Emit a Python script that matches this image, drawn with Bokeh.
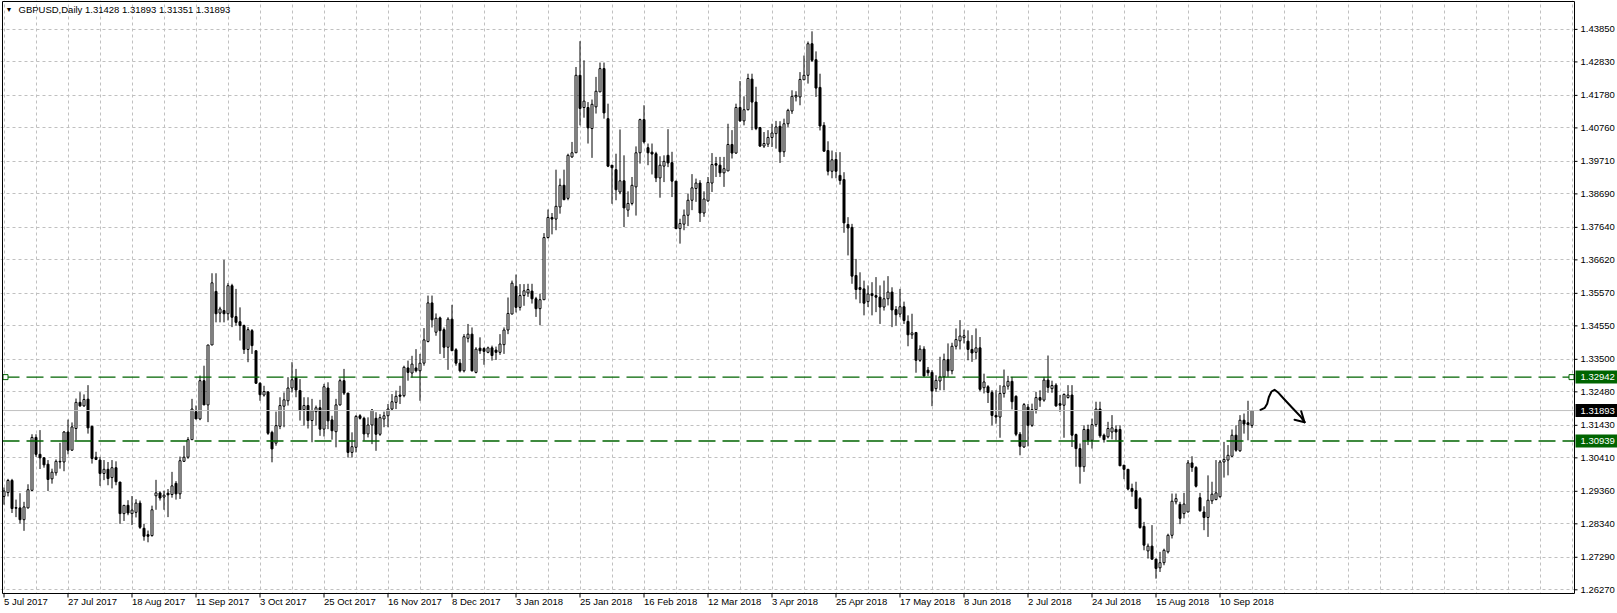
from bokeh.plotting import figure
from bokeh.models import Range1d, FixedTicker, Grid
from bokeh.embed import file_html
from bokeh.resources import INLINE
from bokeh.core.properties import value

symbol_title = "GBPUSD,Daily  1.31428 1.31893 1.31351 1.31893"

opens = [
    1.2920, 1.2932, 1.2970, 1.2885, 1.2884, 1.2847, 1.2884, 1.2939, 1.3105, 1.3052,
    1.3041, 1.3021, 1.2975, 1.2994, 1.3030, 1.3028, 1.3122, 1.3065, 1.3133, 1.3215,
    1.3204, 1.3225, 1.3140, 1.3043, 1.3034, 1.2992, 1.3005, 1.2979, 1.3010, 1.2965,
    1.2866, 1.2892, 1.2866, 1.2870, 1.2899, 1.2820, 1.2800, 1.2797, 1.2922, 1.2931,
    1.2918, 1.2930, 1.2926, 1.2961, 1.2928, 1.3030, 1.3043, 1.3098, 1.3186, 1.3163,
    1.3283, 1.3207, 1.3395, 1.3563, 1.3495, 1.3503, 1.3493, 1.3581, 1.3484, 1.3468,
    1.3456, 1.3381, 1.3440, 1.3377, 1.3275, 1.3238, 1.3248, 1.3121, 1.3087, 1.3140,
    1.3203, 1.3220, 1.3260, 1.3292, 1.3252, 1.3192, 1.3205, 1.3158, 1.3186, 1.3198,
    1.3131, 1.3260, 1.3160, 1.3123, 1.3207, 1.3283, 1.3244, 1.3058, 1.3074, 1.3173,
    1.3165, 1.3116, 1.3144, 1.3165, 1.3115, 1.3163, 1.3173, 1.3194, 1.3215, 1.3238,
    1.3236, 1.3323, 1.3307, 1.3323, 1.3314, 1.3338, 1.3406, 1.3527, 1.3435, 1.3480,
    1.3443, 1.3388, 1.3476, 1.3380, 1.3338, 1.3314, 1.3416, 1.3429, 1.3309, 1.3385,
    1.3384, 1.3372, 1.3386, 1.3379, 1.3372, 1.3396, 1.3442, 1.3492, 1.3579, 1.3513,
    1.3550, 1.3558, 1.3564, 1.3540, 1.3509, 1.3537, 1.3732, 1.3795, 1.3790, 1.3828,
    1.3896, 1.3855, 1.3985, 1.3998, 1.4241, 1.4140, 1.4140, 1.4074, 1.4142, 1.4189,
    1.4262, 1.4105, 1.3959, 1.3945, 1.3875, 1.3910, 1.3818, 1.3839, 1.3891, 1.3998,
    1.4102, 1.4014, 1.4000, 1.3995, 1.3919, 1.3956, 1.3990, 1.3967, 1.3909, 1.3760,
    1.3774, 1.3802, 1.3849, 1.3886, 1.3903, 1.3809, 1.3847, 1.3903, 1.3964, 1.3959,
    1.3935, 1.3941, 1.4024, 1.3997, 1.4140, 1.4098, 1.4133, 1.4229, 1.4157, 1.4077,
    1.4019, 1.4025, 1.4046, 1.4058, 1.4081, 1.4001, 1.4089, 1.4129, 1.4173, 1.4173,
    1.4227, 1.4241, 1.4340, 1.4290, 1.4203, 1.4084, 1.4005, 1.3940, 1.3977, 1.3927,
    1.3914, 1.3773, 1.3764, 1.3613, 1.3575, 1.3571, 1.3531, 1.3556, 1.3550, 1.3545,
    1.3514, 1.3540, 1.3561, 1.3506, 1.3492, 1.3515, 1.3469, 1.3427, 1.3434, 1.3347,
    1.3382, 1.3316, 1.3309, 1.3258, 1.3282, 1.3295, 1.3349, 1.3314, 1.3391, 1.3408,
    1.3418, 1.3407, 1.3381, 1.3372, 1.3386, 1.3261, 1.3264, 1.3246, 1.3174, 1.3169,
    1.3243, 1.3266, 1.3281, 1.3234, 1.3115, 1.3075, 1.3200, 1.3143, 1.3192, 1.3230,
    1.3222, 1.3285, 1.3258, 1.3269, 1.3211, 1.3206, 1.3230, 1.3238, 1.3114, 1.3070,
    1.3013, 1.3130, 1.3096, 1.3145, 1.3194, 1.3112, 1.3107, 1.3122, 1.3130, 1.3130,
    1.3018, 1.3005, 1.2945, 1.2938, 1.2913, 1.2826, 1.2749, 1.2764, 1.2723, 1.2696,
    1.2712, 1.2746, 1.2798, 1.2903, 1.2895, 1.2866, 1.2871, 1.3025, 1.3011, 1.2916,
    1.2871, 1.2854, 1.2906, 1.2910, 1.2919, 1.3028, 1.3034, 1.3046, 1.3112, 1.3063,
    1.3159, 1.3151, 1.31428,
]

highs = [
    1.2948, 1.2975, 1.2975, 1.2910, 1.2930, 1.2903, 1.2958, 1.3115, 1.3115, 1.3128,
    1.3043, 1.3034, 1.3007, 1.3036, 1.3088, 1.3125, 1.3161, 1.3152, 1.3227, 1.3247,
    1.3240, 1.3269, 1.3140, 1.3060, 1.3044, 1.3034, 1.3028, 1.3034, 1.3030, 1.2965,
    1.2893, 1.2908, 1.2921, 1.2911, 1.2907, 1.2834, 1.2813, 1.2891, 1.2972, 1.2936,
    1.2938, 1.2943, 1.2997, 1.2968, 1.3045, 1.3079, 1.3106, 1.3226, 1.3205, 1.3299,
    1.3330, 1.3395, 1.3620, 1.3620, 1.3515, 1.3662, 1.3589, 1.3587, 1.3571, 1.3513,
    1.3459, 1.3451, 1.3445, 1.3377, 1.3278, 1.3267, 1.3248, 1.3126, 1.3186, 1.3231,
    1.3246, 1.3294, 1.3341, 1.3320, 1.3288, 1.3231, 1.3231, 1.3226, 1.3205, 1.3223,
    1.3273, 1.3278, 1.3173, 1.3226, 1.3290, 1.3320, 1.3244, 1.3121, 1.3175, 1.3178,
    1.3170, 1.3168, 1.3194, 1.3184, 1.3178, 1.3186, 1.3210, 1.3241, 1.3252, 1.3267,
    1.3330, 1.3346, 1.3361, 1.3382, 1.3367, 1.3448, 1.3550, 1.3550, 1.3494, 1.3484,
    1.3450, 1.3482, 1.3521, 1.3385, 1.3351, 1.3429, 1.3461, 1.3450, 1.3388, 1.3419,
    1.3388, 1.3390, 1.3393, 1.3390, 1.3429, 1.3450, 1.3544, 1.3597, 1.3616, 1.3586,
    1.3586, 1.3587, 1.3587, 1.3546, 1.3556, 1.3746, 1.3820, 1.3809, 1.3945, 1.3917,
    1.3945, 1.3995, 1.4032, 1.4267, 1.4348, 1.4288, 1.4157, 1.4165, 1.4236, 1.4281,
    1.4281, 1.4152, 1.3959, 1.3995, 1.4071, 1.3990, 1.3877, 1.3922, 1.4018, 1.4105,
    1.4147, 1.4027, 1.4027, 1.4001, 1.3987, 1.3990, 1.4072, 1.4001, 1.3909, 1.3791,
    1.3820, 1.3870, 1.3931, 1.3917, 1.3912, 1.3877, 1.3922, 1.3997, 1.3985, 1.3985,
    1.3985, 1.4089, 1.4069, 1.4152, 1.4223, 1.4175, 1.4246, 1.4246, 1.4205, 1.4079,
    1.4063, 1.4069, 1.4089, 1.4098, 1.4097, 1.4105, 1.4136, 1.4194, 1.4191, 1.4251,
    1.4303, 1.4347, 1.4379, 1.4316, 1.4246, 1.4094, 1.4034, 1.4005, 1.4000, 1.4000,
    1.3937, 1.3796, 1.3775, 1.3665, 1.3623, 1.3597, 1.3582, 1.3592, 1.3608, 1.3582,
    1.3597, 1.3611, 1.3576, 1.3517, 1.3571, 1.3531, 1.3488, 1.3493, 1.3436, 1.3394,
    1.3391, 1.3326, 1.3316, 1.3300, 1.3358, 1.3368, 1.3400, 1.3402, 1.3447, 1.3473,
    1.3443, 1.3441, 1.3426, 1.3447, 1.3420, 1.3305, 1.3269, 1.3253, 1.3253, 1.3269,
    1.3318, 1.3298, 1.3295, 1.3237, 1.3122, 1.3213, 1.3210, 1.3211, 1.3248, 1.3253,
    1.3295, 1.3362, 1.3283, 1.3275, 1.3238, 1.3243, 1.3269, 1.3269, 1.3117, 1.3086,
    1.3143, 1.3145, 1.3164, 1.3217, 1.3217, 1.3117, 1.3154, 1.3175, 1.3143, 1.3143,
    1.3018, 1.3005, 1.2960, 1.2966, 1.2918, 1.2840, 1.2772, 1.2830, 1.2725, 1.2746,
    1.2756, 1.2803, 1.2929, 1.2929, 1.2903, 1.2931, 1.3034, 1.3046, 1.3015, 1.2931,
    1.2889, 1.2986, 1.2966, 1.3034, 1.3034, 1.3091, 1.3081, 1.3130, 1.3143, 1.3175,
    1.3180, 1.3220, 1.31893,
]

lows = [
    1.2894, 1.2920, 1.2868, 1.2855, 1.2835, 1.2812, 1.2882, 1.2937, 1.3044, 1.3006,
    1.3010, 1.2937, 1.2960, 1.2985, 1.3007, 1.2999, 1.3052, 1.3063, 1.3096, 1.3201,
    1.3201, 1.3117, 1.3023, 1.3034, 1.2953, 1.2971, 1.2955, 1.2945, 1.2955, 1.2834,
    1.2843, 1.2861, 1.2830, 1.2854, 1.2818, 1.2781, 1.2776, 1.2794, 1.2878, 1.2907,
    1.2878, 1.2855, 1.2916, 1.2910, 1.2912, 1.3028, 1.3038, 1.3098, 1.3163, 1.3159,
    1.3207, 1.3153, 1.3395, 1.3466, 1.3466, 1.3466, 1.3472, 1.3451, 1.3456, 1.3409,
    1.3367, 1.3341, 1.3367, 1.3273, 1.3220, 1.3233, 1.3113, 1.3027, 1.3079, 1.3131,
    1.3137, 1.3205, 1.3246, 1.3231, 1.3158, 1.3142, 1.3133, 1.3090, 1.3142, 1.3110,
    1.3108, 1.3131, 1.3098, 1.3074, 1.3205, 1.3238, 1.3042, 1.3042, 1.3058, 1.3161,
    1.3095, 1.3105, 1.3084, 1.3063, 1.3110, 1.3137, 1.3137, 1.3189, 1.3194, 1.3210,
    1.3231, 1.3283, 1.3293, 1.3309, 1.3220, 1.3330, 1.3403, 1.3450, 1.3424, 1.3367,
    1.3354, 1.3317, 1.3377, 1.3330, 1.3309, 1.3309, 1.3403, 1.3312, 1.3306, 1.3367,
    1.3333, 1.3369, 1.3346, 1.3348, 1.3364, 1.3367, 1.3429, 1.3492, 1.3497, 1.3503,
    1.3518, 1.3546, 1.3525, 1.3483, 1.3457, 1.3537, 1.3729, 1.3742, 1.3755, 1.3807,
    1.3849, 1.3849, 1.3982, 1.3998, 1.4084, 1.4108, 1.4027, 1.3982, 1.4121, 1.4189,
    1.4105, 1.3953, 1.3838, 1.3849, 1.3868, 1.3765, 1.3797, 1.3833, 1.3801, 1.3964,
    1.4027, 1.3959, 1.3930, 1.3906, 1.3857, 1.3906, 1.3953, 1.3859, 1.3760, 1.3713,
    1.3755, 1.3768, 1.3818, 1.3844, 1.3781, 1.3797, 1.3844, 1.3875, 1.3922, 1.3922,
    1.3891, 1.3941, 1.3980, 1.3995, 1.4095, 1.4084, 1.4131, 1.4069, 1.4069, 1.4016,
    1.4013, 1.4016, 1.4016, 1.4011, 1.3966, 1.3985, 1.4079, 1.4120, 1.4159, 1.4147,
    1.4227, 1.4215, 1.4283, 1.4173, 1.4068, 1.4002, 1.3927, 1.3918, 1.3918, 1.3898,
    1.3747, 1.3676, 1.3587, 1.3538, 1.3526, 1.3488, 1.3514, 1.3488, 1.3498, 1.3461,
    1.3503, 1.3519, 1.3451, 1.3456, 1.3482, 1.3461, 1.3391, 1.3414, 1.3308, 1.3342,
    1.3295, 1.3298, 1.3203, 1.3248, 1.3253, 1.3253, 1.3295, 1.3303, 1.3381, 1.3381,
    1.3400, 1.3347, 1.3342, 1.3350, 1.3250, 1.3243, 1.3213, 1.3143, 1.3148, 1.3104,
    1.3230, 1.3255, 1.3193, 1.3109, 1.3049, 1.3072, 1.3077, 1.3138, 1.3180, 1.3201,
    1.3217, 1.3245, 1.3245, 1.3201, 1.3185, 1.3104, 1.3227, 1.3075, 1.3013, 1.2960,
    1.2997, 1.3081, 1.3070, 1.3138, 1.3104, 1.3089, 1.3102, 1.3099, 1.3096, 1.3016,
    1.2974, 1.2939, 1.2919, 1.2880, 1.2819, 1.2751, 1.2725, 1.2723, 1.2662, 1.2683,
    1.2704, 1.2741, 1.2788, 1.2895, 1.2833, 1.2851, 1.2871, 1.2997, 1.2948, 1.2872,
    1.2814, 1.2793, 1.2896, 1.2908, 1.2916, 1.2979, 1.2986, 1.3044, 1.3060, 1.3060,
    1.3117, 1.3096, 1.31351,
]

closes = [
    1.2937, 1.2970, 1.2882, 1.2883, 1.2847, 1.2887, 1.2941, 1.3105, 1.3052, 1.3041,
    1.3019, 1.2973, 1.2996, 1.3030, 1.3028, 1.3122, 1.3065, 1.3138, 1.3215, 1.3204,
    1.3224, 1.3135, 1.3039, 1.3036, 1.2992, 1.3005, 1.2976, 1.3010, 1.2966, 1.2866,
    1.2892, 1.2868, 1.2877, 1.2899, 1.2823, 1.2795, 1.2795, 1.2878, 1.2931, 1.2915,
    1.2924, 1.2925, 1.2953, 1.2928, 1.3032, 1.3043, 1.3098, 1.3194, 1.3163, 1.3283,
    1.3207, 1.3395, 1.3590, 1.3493, 1.3508, 1.3493, 1.3581, 1.3482, 1.3466, 1.3456,
    1.3381, 1.3443, 1.3393, 1.3275, 1.3239, 1.3249, 1.3118, 1.3069, 1.3142, 1.3205,
    1.3223, 1.3260, 1.3286, 1.3254, 1.3191, 1.3205, 1.3158, 1.3189, 1.3198, 1.3131,
    1.3264, 1.3157, 1.3126, 1.3207, 1.3283, 1.3244, 1.3058, 1.3076, 1.3171, 1.3165,
    1.3116, 1.3144, 1.3191, 1.3115, 1.3167, 1.3173, 1.3194, 1.3217, 1.3234, 1.3234,
    1.3325, 1.3309, 1.3335, 1.3314, 1.3338, 1.3411, 1.3527, 1.3474, 1.3479, 1.3440,
    1.3388, 1.3476, 1.3377, 1.3338, 1.3314, 1.3421, 1.3429, 1.3314, 1.3382, 1.3377,
    1.3375, 1.3386, 1.3362, 1.3372, 1.3398, 1.3442, 1.3494, 1.3589, 1.3513, 1.3550,
    1.3565, 1.3569, 1.3540, 1.3509, 1.3537, 1.3732, 1.3795, 1.3790, 1.3830, 1.3896,
    1.3851, 1.3990, 1.3998, 1.4241, 1.4137, 1.4160, 1.4076, 1.4150, 1.4191, 1.4262,
    1.4123, 1.3956, 1.3951, 1.3882, 1.3910, 1.3825, 1.3839, 1.3896, 1.3998, 1.4102,
    1.4032, 1.3998, 1.3994, 1.3919, 1.3959, 1.3971, 1.3966, 1.3909, 1.3760, 1.3776,
    1.3802, 1.3849, 1.3888, 1.3903, 1.3809, 1.3853, 1.3905, 1.3961, 1.3959, 1.3935,
    1.3948, 1.4024, 1.3997, 1.4140, 1.4098, 1.4133, 1.4231, 1.4157, 1.4074, 1.4019,
    1.4027, 1.4046, 1.4060, 1.4079, 1.4001, 1.4089, 1.4131, 1.4175, 1.4178, 1.4228,
    1.4241, 1.4340, 1.4288, 1.4201, 1.4082, 1.4003, 1.3940, 1.3976, 1.3940, 1.3911,
    1.3778, 1.3762, 1.3611, 1.3569, 1.3569, 1.3526, 1.3555, 1.3550, 1.3545, 1.3514,
    1.3540, 1.3561, 1.3505, 1.3490, 1.3515, 1.3472, 1.3427, 1.3433, 1.3347, 1.3382,
    1.3298, 1.3308, 1.3251, 1.3284, 1.3295, 1.3349, 1.3314, 1.3391, 1.3412, 1.3423,
    1.3424, 1.3381, 1.3370, 1.3386, 1.3256, 1.3279, 1.3246, 1.3174, 1.3169, 1.3243,
    1.3266, 1.3281, 1.3217, 1.3115, 1.3077, 1.3208, 1.3143, 1.3192, 1.3230, 1.3222,
    1.3285, 1.3262, 1.3268, 1.3204, 1.3206, 1.3240, 1.3238, 1.3112, 1.3070, 1.3013,
    1.3130, 1.3096, 1.3145, 1.3194, 1.3110, 1.3098, 1.3133, 1.3135, 1.3122, 1.3016,
    1.3005, 1.2943, 1.2936, 1.2882, 1.2822, 1.2767, 1.2764, 1.2723, 1.2694, 1.2712,
    1.2751, 1.2798, 1.2905, 1.2913, 1.2851, 1.2896, 1.3025, 1.3011, 1.2952, 1.2875,
    1.2854, 1.2908, 1.2927, 1.2931, 1.3028, 1.3036, 1.3049, 1.3112, 1.3065, 1.3159,
    1.3147, 1.3145, 1.31893,
]

price_ticks = [1.43850, 1.42830, 1.41780, 1.40760, 1.39710, 1.38690, 1.37640, 1.36620, 1.35570,
               1.34550, 1.33500, 1.32480, 1.31430, 1.30410, 1.29360, 1.28340, 1.27290, 1.26270]

date_labels = ["5 Jul 2017", "27 Jul 2017", "18 Aug 2017", "11 Sep 2017", "3 Oct 2017",
               "25 Oct 2017", "16 Nov 2017", "8 Dec 2017", "3 Jan 2018", "25 Jan 2018",
               "16 Feb 2018", "12 Mar 2018", "3 Apr 2018", "25 Apr 2018", "17 May 2018",
               "8 Jun 2018", "2 Jul 2018", "24 Jul 2018", "15 Aug 2018", "10 Sep 2018"]
bars_per_label = 16
bars_per_vgrid = 8

resistance_level = 1.32942
support_level = 1.30939
bid_level = 1.31893

# hand-drawn arrow annotation (bar index, price)
arrow_x = [314.13, 315.2, 315.8, 316.2, 316.88, 317.63, 318.45, 319.95, 322.05, 324.13, 325.13]
arrow_y = [1.31917, 1.31980, 1.32105, 1.32312, 1.32491, 1.32544, 1.32469, 1.32262, 1.31980, 1.31707, 1.31528]
barb1_x = [324.3, 325.13]
barb1_y = [1.31873, 1.31528]
barb2_x = [322.63, 325.13]
barb2_y = [1.31603, 1.31528]

# ---------------- layout helpers (screen pixel -> data) ----------------
W, H = 1617, 613
BAR_PX, BAR0_PX = 4.0, 3.5
PRICE_PER_PX, REF_PRICE, REF_PX = 0.0003137, 1.4385, 28.9


def px_x(px):
    return (px - BAR0_PX) / BAR_PX


def px_y(py):
    return REF_PRICE - (py - REF_PX) * PRICE_PER_PX


FONT = "Liberation Sans"
FSIZE = "9.5px"
GREEN = "#006400"
GRID = "#c0c0c0"

X0, X1 = px_x(0), px_x(W)
Y0, Y1 = px_y(H), px_y(0)
AX = px_x(1574)     # price axis line / right edge of chart
FL = px_x(2)        # left border
FT = px_y(1)        # top border
FB = px_y(593)      # bottom border (time axis)

n = len(opens)
idx = list(range(n))
body_top = [max(o, c) for o, c in zip(opens, closes)]
body_bot = [min(o, c) for o, c in zip(opens, closes)]
fills = ["white" if c >= o else "black" for o, c in zip(opens, closes)]

p = figure(width=W, height=H, output_backend="svg", toolbar_location=None,
           x_range=Range1d(X0, X1), y_range=Range1d(Y0, Y1),
           x_axis_type=None, y_axis_type=None,
           min_border=0, min_border_left=0, min_border_right=0,
           min_border_top=0, min_border_bottom=0,
           background_fill_color="white", border_fill_color="white",
           outline_line_color=None)

# grid
vgrid = Grid(dimension=0, ticker=FixedTicker(ticks=list(range(0, int(AX) + 1, bars_per_vgrid))),
             grid_line_color=GRID, grid_line_dash="3 3", grid_line_width=1)
hgrid = Grid(dimension=1, ticker=FixedTicker(ticks=price_ticks),
             grid_line_color=GRID, grid_line_dash="3 3", grid_line_width=1)
p.add_layout(vgrid)
p.add_layout(hgrid)

# white axis panels (cover grid outside the chart box)
p.quad(left=[AX, X0], right=[X1, X1], top=[Y1, FB], bottom=[Y0, Y0],
       fill_color="white", line_color=None)

# candles
p.segment(x0=idx, y0=lows, x1=idx, y1=highs, line_color="black", line_width=1)
p.vbar(x=idx, width=0.5, top=body_top, bottom=body_bot,
       fill_color=fills, line_color="black", line_width=1)

# bid line and horizontal levels
p.segment(x0=[FL], y0=[bid_level], x1=[AX], y1=[bid_level], line_color="#c0c0c0", line_width=1)
p.segment(x0=[FL, FL], y0=[resistance_level, support_level], x1=[AX, AX],
          y1=[resistance_level, support_level], line_color=GREEN, line_dash="17 7", line_width=1.4)
p.scatter(x=[px_x(5), px_x(1571)], y=[resistance_level, resistance_level], marker="square",
          size=5, fill_color="white", line_color=GREEN, line_width=1)

# chart box
p.quad(left=[FL], right=[AX], top=[FT], bottom=[FB], fill_color=None,
       line_color="black", line_width=1)

# price axis: ticks and labels
nt = len(price_ticks)
p.segment(x0=[AX] * nt, y0=price_ticks, x1=[px_x(1577)] * nt, y1=price_ticks,
          line_color="black", line_width=1)
p.text(x=[px_x(1580)] * nt, y=price_ticks, text=["%.5f" % t for t in price_ticks],
       text_font=value(FONT), text_font_size=value(FSIZE), text_color="black",
       text_align="left", text_baseline="middle")

# time axis: ticks and labels
label_ticks = [bars_per_label * k for k in range(len(date_labels))]
nl = len(label_ticks)
p.segment(x0=label_ticks, y0=[FB] * nl, x1=label_ticks, y1=[px_y(597)] * nl,
          line_color="black", line_width=1)
p.text(x=label_ticks, y=[px_y(601)] * nl, text=date_labels,
       text_font=value(FONT), text_font_size=value(FSIZE), text_color="black",
       text_align="left", text_baseline="middle")

# price boxes on the axis
box_levels = [resistance_level, bid_level, support_level]
box_colors = [GREEN, "black", GREEN]
half = 6.5 * PRICE_PER_PX
p.quad(left=[px_x(1575)] * 3, right=[X1] * 3, top=[v + half for v in box_levels],
       bottom=[v - half for v in box_levels], fill_color=box_colors, line_color=None)
p.text(x=[px_x(1580)] * 3, y=box_levels, text=["%.5f" % v for v in box_levels],
       text_font=value(FONT), text_font_size=value(FSIZE), text_color="white",
       text_align="left", text_baseline="middle")

# arrow
p.line(arrow_x, arrow_y, line_color="black", line_width=2, line_cap="round", line_join="round")
p.line(barb1_x, barb1_y, line_color="black", line_width=2, line_cap="round")
p.line(barb2_x, barb2_y, line_color="black", line_width=2, line_cap="round")

# title
p.text(x=[px_x(5)], y=[px_y(9)], text=["\u25bc"], text_font=value(FONT),
       text_font_size=value("7px"), text_color="black", text_align="left", text_baseline="middle")
p.text(x=[px_x(18)], y=[px_y(9)], text=[symbol_title], text_font=value(FONT),
       text_font_size=value(FSIZE), text_color="black", text_align="left", text_baseline="middle")

open("out.html", "w").write(file_html(p, INLINE))
